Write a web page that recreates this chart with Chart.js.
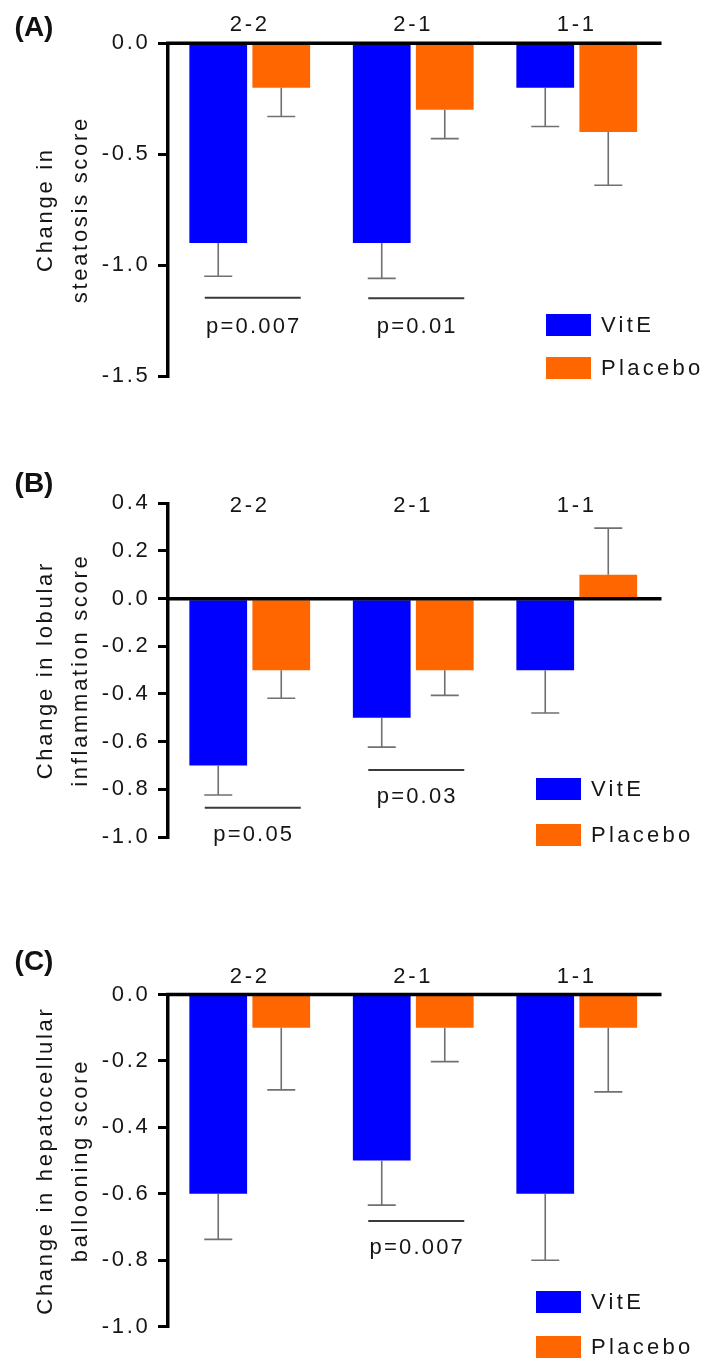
<!DOCTYPE html>
<html>
<head>
<meta charset="utf-8">
<script src="https://cdn.jsdelivr.net/npm/chart.js@4.4.1/dist/chart.umd.min.js"></script>
<style>
  html, body { margin: 0; padding: 0; background: #ffffff; width: 707px; height: 1361px; overflow: hidden; }
  .panel { position: absolute; left: 0; width: 707px; }
  canvas { display: block; }
</style>
</head>
<body>
<div class="panel" style="top:0px;height:410px"><canvas id="cA" width="707" height="410"></canvas></div>
<div class="panel" style="top:440px;height:420px"><canvas id="cB" width="707" height="420"></canvas></div>
<div class="panel" style="top:900px;height:461px"><canvas id="cC" width="707" height="461"></canvas></div>
<script>
// ---------------- DATA ----------------
const categories = ['2-2', '2-1', '1-1'];
const seriesNames = ['VitE', 'Placebo'];

// (A) Change in steatosis score
const steatosisVitE = [-0.9, -0.9, -0.2];
const steatosisVitEErr = [0.15, 0.16, 0.175];
const steatosisPlacebo = [-0.2, -0.3, -0.4];
const steatosisPlaceboErr = [0.13, 0.13, 0.24];
const steatosisTicks = [0.0, -0.5, -1.0, -1.5];
const steatosisPValues = ['p=0.007', 'p=0.01'];
const steatosisPCats = [0, 1];
const steatosisPLineY = [-1.147, -1.15];
const steatosisPTextY = [-1.28, -1.28];

// (B) Change in lobular inflammation score
const lobularVitE = [-0.7, -0.5, -0.3];
const lobularVitEErr = [0.124, 0.123, 0.18];
const lobularPlacebo = [-0.3, -0.3, 0.1];
const lobularPlaceboErr = [0.118, 0.106, 0.196];
const lobularTicks = [0.4, 0.2, 0.0, -0.2, -0.4, -0.6, -0.8, -1.0];
const lobularPValues = ['p=0.05', 'p=0.03'];
const lobularPCats = [0, 1];
const lobularPLineY = [-0.877, -0.719];
const lobularPTextY = [-0.99, -0.832];

// (C) Change in hepatocellular ballooning score
const ballooningVitE = [-0.6, -0.5, -0.6];
const ballooningVitEErr = [0.137, 0.134, 0.2];
const ballooningPlacebo = [-0.1, -0.1, -0.1];
const ballooningPlaceboErr = [0.187, 0.102, 0.193];
const ballooningTicks = [0.0, -0.2, -0.4, -0.6, -0.8, -1.0];
const ballooningPValues = ['p=0.007'];
const ballooningPCats = [1];
const ballooningPLineY = [-0.682];
const ballooningPTextY = [-0.762];

// ---------------- STYLE ----------------
const FONT = "'Liberation Sans', Arial, Helvetica, sans-serif";
const TEXT = '#151515';
const SPACING = 2.7;
const FSIZE = 22;
const COLORS = ['#0000ff', '#ff6600'];

Chart.defaults.font.family = FONT;
Chart.defaults.color = TEXT;

function makePanel(canvasId, letter, title, vit, vitErr, pla, plaErr, ticks, pTexts, pCats, pLineY, pTextY, layout) {
  const extras = {
    id: 'extras_' + canvasId,
    beforeLayout(chart) { chart.ctx.letterSpacing = SPACING + 'px'; },
    beforeDraw(chart) { chart.ctx.letterSpacing = SPACING + 'px'; },
    afterDatasetsDraw(chart) {
      const ctx = chart.ctx;
      const ys = chart.scales.y, xs = chart.scales.x;
      const area = chart.chartArea;
      ctx.save();
      // error bars (one-sided, away from zero)
      ctx.strokeStyle = '#707070';
      ctx.lineWidth = 1.6;
      chart.data.datasets.forEach((ds, di) => {
        const meta = chart.getDatasetMeta(di);
        meta.data.forEach((bar, i) => {
          const v = ds.data[i];
          const e = ds.errors[i];
          const end = v >= 0 ? v + e : v - e;
          const y0 = ys.getPixelForValue(v);
          const y1 = ys.getPixelForValue(end);
          ctx.beginPath();
          ctx.moveTo(bar.x, y0);
          ctx.lineTo(bar.x, y1);
          ctx.moveTo(bar.x - 14, y1);
          ctx.lineTo(bar.x + 14, y1);
          ctx.stroke();
        });
      });
      // zero line
      const zy = ys.getPixelForValue(0);
      ctx.strokeStyle = '#000';
      ctx.lineWidth = 3.5;
      ctx.beginPath();
      ctx.moveTo(area.left - 2, zy);
      ctx.lineTo(area.right + 3, zy);
      ctx.stroke();
      // significance lines + p values
      ctx.letterSpacing = '2.2px';
      ctx.font = FSIZE + 'px ' + FONT;
      ctx.fillStyle = TEXT;
      ctx.textAlign = 'center';
      ctx.textBaseline = 'middle';
      pTexts.forEach((t, k) => {
        const cx = xs.getPixelForValue(pCats[k]);
        const ly = ys.getPixelForValue(pLineY[k]);
        ctx.strokeStyle = '#3a3a3a';
        ctx.lineWidth = 2;
        ctx.beginPath();
        ctx.moveTo(cx - 45, ly);
        ctx.lineTo(cx + 51, ly);
        ctx.stroke();
        ctx.fillText(t, cx + 4, ys.getPixelForValue(pTextY[k]));
      });
      // legend
      ctx.letterSpacing = '3.3px';
      ctx.textAlign = 'left';
      chart.data.datasets.forEach((ds, di) => {
        const by = layout.legendY[di];
        ctx.fillStyle = ds.backgroundColor;
        ctx.fillRect(layout.legendX, by, 45, 22);
        ctx.fillStyle = TEXT;
        ctx.fillText(ds.label, layout.legendX + 55, by + 12);
      });
      // panel letter
      ctx.letterSpacing = '0px';
      ctx.font = 'bold 28px ' + FONT;
      ctx.fillStyle = '#111';
      ctx.textAlign = 'center';
      ctx.fillText(letter, 34, layout.letterY);
      ctx.restore();
    }
  };

  return new Chart(document.getElementById(canvasId), {
    type: 'bar',
    data: {
      labels: categories,
      datasets: [
        { label: seriesNames[0], data: vit, errors: vitErr, backgroundColor: COLORS[0], borderWidth: 0 },
        { label: seriesNames[1], data: pla, errors: plaErr, backgroundColor: COLORS[1], borderWidth: 0 }
      ]
    },
    options: {
      responsive: false,
      animation: false,
      events: [],
      layout: { padding: { left: 0, top: 0, right: 48.5, bottom: layout.padBottom } },
      datasets: { bar: { categoryPercentage: 0.771, barPercentage: 0.916 } },
      plugins: { legend: { display: false }, tooltip: { enabled: false } },
      scales: {
        x: {
          position: 'top',
          grid: { display: false, drawTicks: false },
          border: { display: false },
          ticks: { font: { size: FSIZE }, color: TEXT, mirror: true, padding: layout.xPad, maxRotation: 0, autoSkip: false },
          afterFit: (s) => { s.height = layout.xHeight; }
        },
        y: {
          min: Math.min(...ticks),
          max: Math.max(...ticks),
          afterBuildTicks: (s) => { s.ticks = ticks.map(v => ({ value: v })); },
          ticks: { font: { size: FSIZE }, color: TEXT, padding: 7.5, callback: (v) => Number(v).toFixed(1) },
          grid: { drawOnChartArea: false, drawTicks: true, tickLength: 10, color: '#000', lineWidth: 3 },
          border: { display: true, color: '#000', width: 3.5 },
          title: { display: true, text: title, color: TEXT, font: { size: FSIZE, lineHeight: 1.6 }, padding: { top: 28, bottom: 0 } },
          afterFit: (s) => { s.width = 168; }
        }
      }
    },
    plugins: [extras]
  });
}

makePanel('cA', '(A)', ['Change in', 'steatosis score'],
  steatosisVitE, steatosisVitEErr, steatosisPlacebo, steatosisPlaceboErr, steatosisTicks,
  steatosisPValues, steatosisPCats, steatosisPLineY, steatosisPTextY,
  { xHeight: 43.3, xPad: -32, padBottom: 34, letterY: 28, legendX: 546, legendY: [314, 357] });

makePanel('cB', '(B)', ['Change in lobular', 'inflammation score'],
  lobularVitE, lobularVitEErr, lobularPlacebo, lobularPlaceboErr, lobularTicks,
  lobularPValues, lobularPCats, lobularPLineY, lobularPTextY,
  { xHeight: 63.3, xPad: -10.3, padBottom: 23, letterY: 44, legendX: 536, legendY: [338, 384] });

makePanel('cC', '(C)', ['Change in hepatocellular', 'ballooning score'],
  ballooningVitE, ballooningVitEErr, ballooningPlacebo, ballooningPlaceboErr, ballooningTicks,
  ballooningPValues, ballooningPCats, ballooningPLineY, ballooningPTextY,
  { xHeight: 94.5, xPad: -31, padBottom: 34.3, letterY: 62, legendX: 536, legendY: [391, 436] });
</script>
</body>
</html>
